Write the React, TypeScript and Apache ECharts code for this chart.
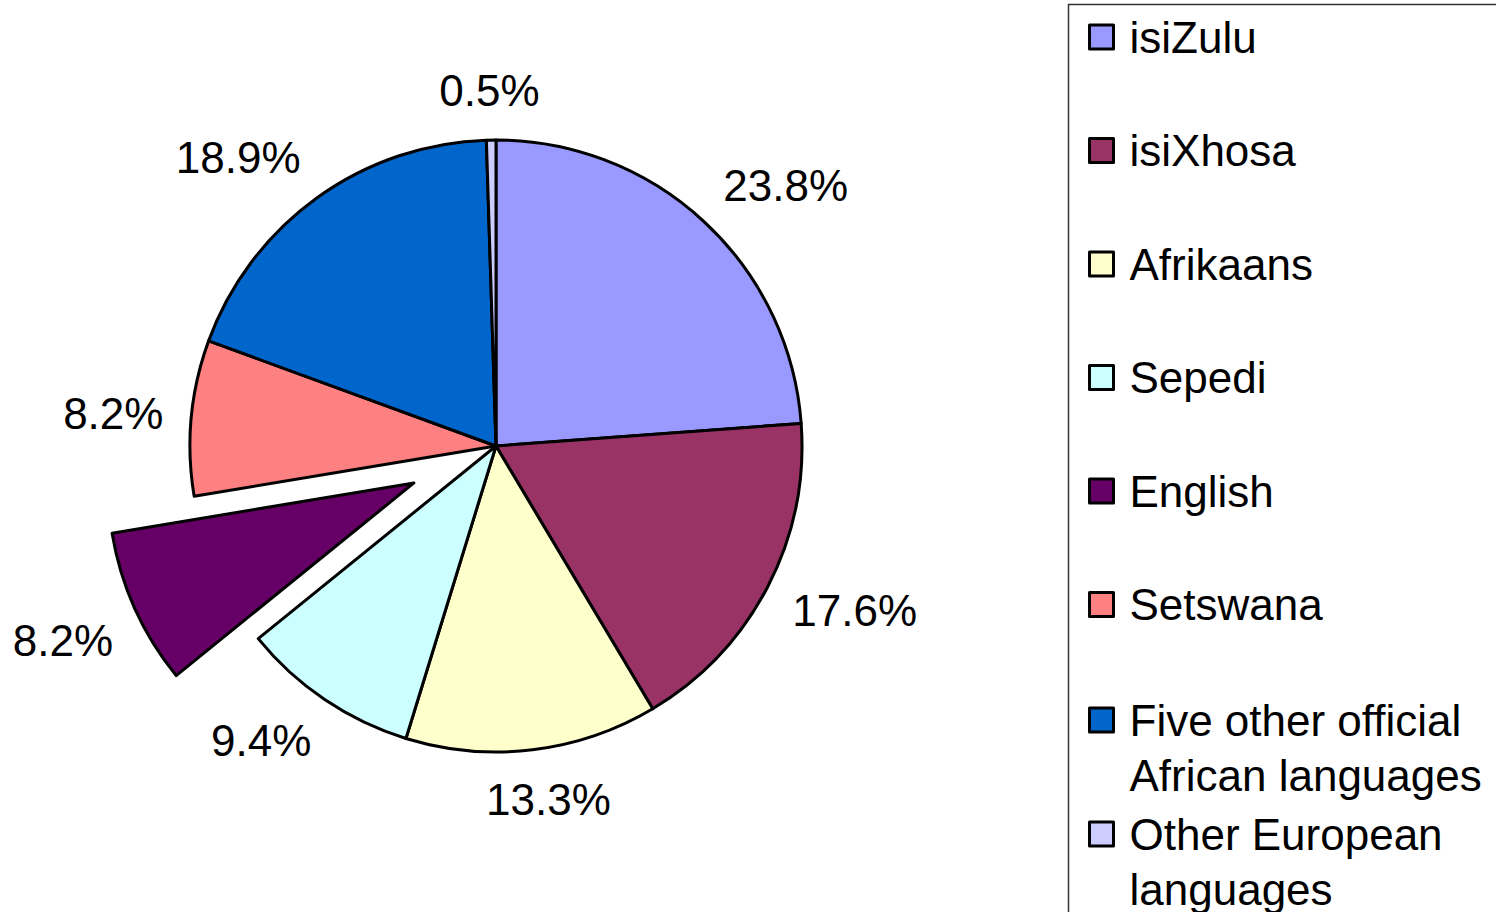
import React, { useEffect, useRef } from "react";
import * as echarts from "echarts";

const categories = [
  "isiZulu",
  "isiXhosa",
  "Afrikaans",
  "Sepedi",
  "English",
  "Setswana",
  "Five other official\nAfrican languages",
  "Other European\nlanguages",
];
const shares = [23.8, 17.6, 13.3, 9.4, 8.2, 8.2, 18.9, 0.5];
const colors = ["#9999FF", "#993366", "#FFFFCC", "#CCFFFF", "#660066", "#FF8080", "#0066CC", "#CCCCFF"];
const explodedCategory = "English";

const FONT = "'Liberation Sans', Arial, sans-serif";
const CX = 496;
const CY = 446;
const R = 306;
const EXPLODE = 90;
const LABEL_R = 334;

export default function App() {
  const ref = useRef<HTMLDivElement>(null);
  useEffect(() => {
    if (!ref.current) return;
    const chart = echarts.init(ref.current, null, { renderer: "svg" });
    const total = shares.reduce((a, b) => a + b, 0);
    const midAngles: number[] = [];
    let acc = 0;
    shares.forEach((v) => {
      midAngles.push(((acc + v / 2) / total) * Math.PI * 2);
      acc += v;
    });
    const pieData = categories.map((name, i) => ({
      name,
      value: shares[i],
      selected: name === explodedCategory,
      itemStyle: { color: colors[i] },
    }));
    const labelData = categories.map((name, i) => ({
      name,
      value: shares[i],
      selected: name === explodedCategory,
    }));
    const legendCommon = {
      orient: "vertical",
      left: 1088,
      padding: 0,
      itemGap: 58.5,
      itemWidth: 24,
      itemHeight: 24,
      icon: "rect",
      selectedMode: false,
      itemStyle: { borderColor: "#000", borderWidth: 3 },
      textStyle: { fontSize: 44, fontFamily: FONT, color: "#000", lineHeight: 55, padding: [0, 0, 0, 11] },
    };
    const multi = (name: string) => "\n" + name;
    const clamp = (v: number) => Math.max(-1, Math.min(1, v));
    chart.setOption({
      animation: false,
      backgroundColor: "#fff",
      graphic: [
        {
          type: "rect",
          shape: { x: 1068.5, y: 4.5, width: 480, height: 1000 },
          style: { fill: "none", stroke: "#333", lineWidth: 1.5 },
          z: 0,
        },
      ],
      legend: [
        { ...legendCommon, top: 9.5, data: categories.slice(0, 6) },
        { ...legendCommon, top: 637.5, formatter: multi, data: categories.slice(6, 7) },
        { ...legendCommon, top: 751.5, formatter: multi, data: categories.slice(7) },
      ],
      series: [
        {
          type: "pie",
          center: [CX, CY],
          radius: R,
          startAngle: 90,
          clockwise: true,
          selectedMode: "single",
          selectedOffset: EXPLODE,
          avoidLabelOverlap: false,
          emphasis: { disabled: true },
          itemStyle: { borderColor: "#000", borderWidth: 3 },
          label: { show: false },
          labelLine: { show: false },
          data: pieData,
        },
        {
          type: "pie",
          center: [CX, CY],
          radius: [340, 424],
          startAngle: 90,
          clockwise: true,
          silent: true,
          selectedMode: "single",
          selectedOffset: EXPLODE,
          avoidLabelOverlap: false,
          emphasis: { disabled: true },
          itemStyle: { color: "rgba(0,0,0,0)", borderWidth: 0 },
          label: {
            show: true,
            position: "inside",
            formatter: "{c}%",
            fontSize: 44,
            fontFamily: FONT,
            color: "#000",
          },
          labelLine: { show: false },
          labelLayout: (params: any) => {
            const i = params.dataIndex;
            if (categories[i] === explodedCategory) return {};
            const a = midAngles[i];
            const s = Math.sin(a);
            const c = Math.cos(a);
            const w = params.labelRect.width;
            const h = 44;
            return {
              x: CX + LABEL_R * s + (w / 2) * clamp(s * 1.7),
              y: CY - LABEL_R * c - (h / 2) * c,
              align: "center",
              verticalAlign: "middle",
            };
          },
          data: labelData,
        },
      ],
    });
    return () => chart.dispose();
  }, []);
  return (
    <div
      ref={ref}
      style={{ position: "fixed", left: 0, top: 0, width: 1496, height: 912, background: "#fff" }}
    />
  );
}
